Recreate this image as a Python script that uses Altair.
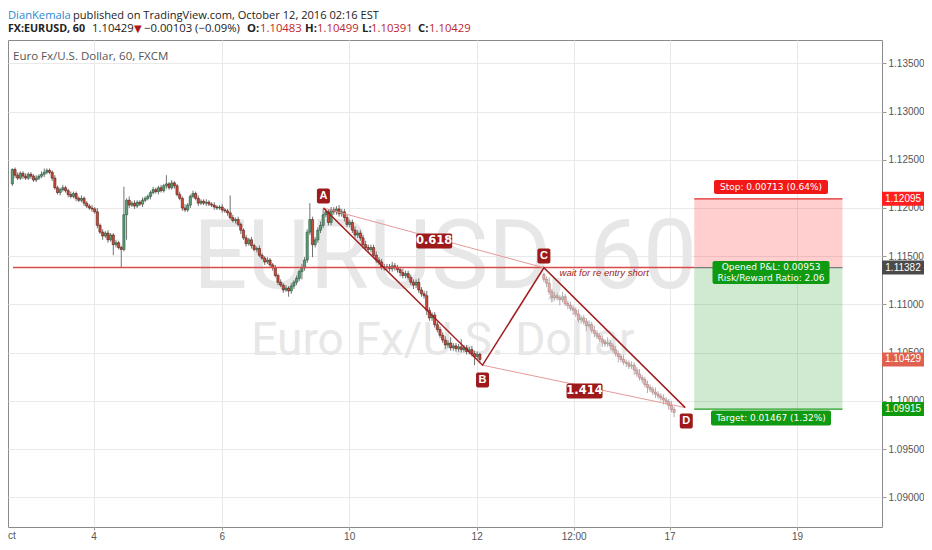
import altair as alt
import pandas as pd

# ---------------- data ----------------
first_open = 1.1225
closes = [
    1.1240, 1.1234, 1.1231, 1.1236, 1.1233, 1.1231, 1.1235, 1.1233, 1.1229, 1.1231,
    1.1233, 1.1235, 1.1237, 1.1239, 1.1237, 1.1231, 1.1221, 1.1216, 1.1219, 1.1221,
    1.1218, 1.1214, 1.1212, 1.1215, 1.1210, 1.1208, 1.1210, 1.1205, 1.1202, 1.1200,
    1.1199, 1.1196, 1.1182, 1.1175, 1.1171, 1.1174, 1.1167, 1.1172, 1.1162, 1.1164,
    1.1159, 1.1157, 1.1193, 1.1208, 1.1203, 1.1205, 1.1202, 1.1206, 1.1204, 1.1208,
    1.1210, 1.1212, 1.1216, 1.1219, 1.1217, 1.1221, 1.1218, 1.1223, 1.1225, 1.1221,
    1.1226, 1.1223, 1.1214, 1.1210, 1.1200, 1.1198, 1.1203, 1.1212, 1.1215, 1.1210,
    1.1205, 1.1207, 1.1205, 1.1206, 1.1204, 1.1203, 1.1201, 1.1200, 1.1201, 1.1198,
    1.1197, 1.1195, 1.1190, 1.1187, 1.1188, 1.1183, 1.1177, 1.1169, 1.1163, 1.1167,
    1.1161, 1.1157, 1.1158, 1.1151, 1.1148, 1.1144, 1.1146, 1.1141, 1.1138, 1.1130,
    1.1123, 1.1120, 1.1115, 1.1117, 1.1114, 1.1119, 1.1123, 1.1127, 1.1134, 1.1138,
    1.1146, 1.1175, 1.1188, 1.1162, 1.1167, 1.1177, 1.1182, 1.1193, 1.1196, 1.1185,
    1.1198, 1.1196, 1.1199, 1.1194, 1.1196, 1.1190, 1.1183, 1.1185, 1.1177, 1.1172,
    1.1174, 1.1169, 1.1162, 1.1159, 1.1157, 1.1159, 1.1151, 1.1146, 1.1144, 1.1139,
    1.1138, 1.1139, 1.1137, 1.1140, 1.1138, 1.1136, 1.1133, 1.1130, 1.1132, 1.1128,
    1.1123, 1.1120, 1.1123, 1.1115, 1.1111, 1.1109, 1.1094, 1.1086, 1.1089, 1.1079,
    1.1074, 1.1068, 1.1063, 1.1058, 1.1060, 1.1055, 1.1057, 1.1054, 1.1056, 1.1053,
    1.1055, 1.1051, 1.1053, 1.1049, 1.1046, 1.10483, 1.10429,
]
up_wick_pips = [
    1, 2, 3, 2, 2, 3, 2, 2, 2, 3,
    2, 3, 4, 2, 2, 2, 3, 2, 2, 3,
    2, 2, 3, 2, 2, 2, 3, 2, 2, 2,
    3, 2, 4, 2, 3, 2, 3, 2, 2, 3,
    2, 2, 29, 2, 4, 2, 3, 2, 2, 3,
    2, 2, 2, 3, 2, 2, 3, 2, 9, 2,
    3, 2, 2, 3, 2, 4, 2, 2, 3, 2,
    3, 2, 2, 3, 2, 2, 3, 2, 2, 3,
    2, 2, 18, 3, 2, 3, 2, 2, 3, 2,
    3, 2, 2, 3, 2, 2, 3, 2, 2, 3,
    2, 3, 2, 3, 2, 3, 2, 3, 2, 4,
    3, 3, 17, 3, 3, 3, 4, 6, 3, 3,
    3, 3, 3, 4, 3, 3, 4, 3, 3, 4,
    3, 3, 3, 4, 3, 3, 3, 4, 3, 3,
    3, 3, 3, 4, 3, 3, 3, 4, 3, 3,
    3, 3, 3, 4, 3, 3, 5, 3, 3, 3,
    3, 3, 3, 4, 3, 6, 3, 3, 3, 8,
    3, 3, 3, 4, 3, 3, 1.6,
]
dn_wick_pips = [
    2, 3, 2, 2, 3, 2, 2, 3, 2, 2,
    2, 2, 3, 2, 2, 3, 2, 2, 3, 2,
    2, 3, 2, 2, 3, 2, 2, 3, 2, 2,
    3, 2, 3, 2, 4, 2, 3, 2, 11, 3,
    2, 19, 2, 26, 3, 2, 3, 2, 2, 3,
    2, 2, 3, 2, 2, 3, 2, 2, 3, 2,
    2, 3, 2, 2, 3, 2, 2, 3, 2, 2,
    3, 2, 2, 3, 2, 2, 3, 2, 2, 3,
    2, 3, 2, 2, 3, 2, 4, 2, 3, 2,
    3, 2, 3, 2, 2, 3, 2, 2, 3, 2,
    3, 2, 3, 2, 6, 3, 3, 3, 3, 8,
    3, 3, 3, 13, 3, 3, 3, 3, 3, 3,
    3, 3, 3, 3, 3, 4, 3, 3, 3, 3,
    3, 3, 4, 3, 3, 3, 3, 3, 3, 3,
    3, 3, 3, 3, 3, 3, 4, 3, 3, 3,
    3, 4, 3, 3, 3, 3, 5, 3, 3, 3,
    3, 3, 3, 4, 3, 3, 3, 3, 3, 3,
    3, 3, 3, 3, 9, 3, 3.8,
]

# projected ("ghost") bars between C and D
ghost_first_bar = 200.6
ghost_first_open = 1.1131
ghost_closes = [
    1.1126, 1.1122, 1.1113, 1.1107, 1.1109, 1.1107, 1.1105, 1.1108, 1.1101, 1.1099,
    1.1096, 1.1094, 1.1090, 1.1084, 1.1086, 1.1082, 1.1078, 1.1079, 1.1073, 1.1070,
    1.1067, 1.1064, 1.1061, 1.1059, 1.1060, 1.1057, 1.1053, 1.1049, 1.1046, 1.1043,
    1.1040, 1.1039, 1.1036, 1.1037, 1.1032, 1.1028, 1.1024, 1.1022, 1.1017, 1.1014,
    1.1012, 1.1009, 1.1007, 1.1005, 1.1003, 1.1001, 1.0999, 1.0995, 1.0991, 1.0988,
]
ghost_up_pips = [2, 3, 6, 3, 4, 3, 3, 5, 3, 3, 4, 3, 3, 5, 3, 3, 4, 3, 3, 5,
                 3, 3, 4, 3, 6, 3, 3, 4, 3, 3, 5, 3, 3, 4, 3, 3, 5, 3, 3, 4,
                 3, 3, 5, 3, 3, 4, 3, 3, 5, 3]
ghost_dn_pips = [3, 4, 3, 5, 3, 3, 6, 3, 3, 4, 3, 5, 3, 3, 4, 3, 6, 3, 3, 4,
                 3, 3, 5, 3, 3, 4, 3, 3, 6, 3, 3, 4, 3, 3, 5, 3, 3, 4, 3, 6,
                 3, 3, 4, 3, 3, 5, 3, 4, 3, 5]

x_tick_pos = [31.1, 79.3, 127.3, 175.3, 211.8, 247.9, 295.9]
x_tick_lab = ["4", "6", "10", "12", "12:00", "17", "19"]
y_ticks = [1.09, 1.095, 1.10, 1.105, 1.11, 1.115, 1.12, 1.125, 1.13, 1.135]

pattern_names = ["A", "B", "C", "D"]
pattern_bar = [117.6, 177.5, 200.6, 253.8]
pattern_price = [1.1200, 1.1037, 1.1138, 1.0993]
pattern_label_bar = [117.6, 177.5, 200.6, 254.2]
pattern_label_price = [1.12124, 1.10216, 1.11502, 1.09791]

ratio_text = ["0.618", "1.414"]
ratio_bar = [159.3, 215.9]
ratio_price = [1.11657, 1.10102]

entry_price = 1.11382
stop_price = 1.12095
target_price = 1.09915
pos_bar_start = 257.2
pos_bar_end = 313.0
pos_label_bar = 286.1
stop_label_price = 1.12217
pnl_label_price = 1.11331
target_label_price = 1.09822
note_bar = 206.5
note_price = 1.11326

tag_prices = [1.12095, 1.11382, 1.10429, 1.09915]
tag_colors = ["#ff1f1f", "#4a4a4a", "#df604e", "#0d9a0d"]

X_DOMAIN = [0.744, 326.0]
Y_DOMAIN = [1.08692, 1.13742]

# ---------------- tables ----------------
def ohlc(first_bar, o0, cl, up, dn):
    rows, prev = [], o0
    for i, c in enumerate(cl):
        o = prev
        rows.append(dict(bar=first_bar + i, open=o, close=c,
                         high=max(o, c) + up[i] * 1e-4,
                         low=min(o, c) - dn[i] * 1e-4,
                         dir="up" if c >= o else "down"))
        prev = c
    return pd.DataFrame(rows)

candles = ohlc(0.5, first_open, closes, up_wick_pips, dn_wick_pips)
ghosts = ohlc(ghost_first_bar, ghost_first_open, ghost_closes, ghost_up_pips, ghost_dn_pips)

xs = alt.Scale(domain=X_DOMAIN, nice=False, zero=False)
ys = alt.Scale(domain=Y_DOMAIN, nice=False, zero=False)
label_expr = "".join(f"abs(datum.value - {p}) < 0.5 ? '{l}' : " for p, l in zip(x_tick_pos, x_tick_lab)) + "''"
xaxis = alt.Axis(values=x_tick_pos, labelExpr=label_expr, title=None, grid=True,
                 gridColor="#e9e9e9", domain=False, tickColor="#999", tickSize=3,
                 labelPadding=1, labelFontSize=10, labelColor="#555",
                 labelFont="Liberation Sans", labelOverlap=False, labelFlush=False)
yaxis = alt.Axis(orient="right", values=y_ticks, format=".5f", title=None, grid=True,
                 gridColor="#e9e9e9", domain=False, tickColor="#999", tickSize=4,
                 labelPadding=2, labelFontSize=10, labelColor="#555",
                 labelFont="Liberation Sans", labelOverlap=False, labelFlush=False)


def X(f):
    return alt.X(f, type="quantitative", scale=xs, axis=xaxis)


def Y(f):
    return alt.Y(f, type="quantitative", scale=ys, axis=yaxis)


def ptxt(s, x, y, **kw):
    base = dict(align="left", baseline="middle")
    base.update(kw)
    return alt.Chart(pd.DataFrame({"t": [s]})).mark_text(**base).encode(
        x=alt.value(x), y=alt.value(y), text="t:N")


layers = []

# watermark
layers.append(ptxt("EURUSD, 60", 437, 248, align="center", baseline="alphabetic",
                   font="Roboto", fontSize=96, color="#e7e7e7"))
layers.append(ptxt("Euro Fx/U.S. Dollar", 435, 315, align="center", baseline="alphabetic",
                   font="Roboto", fontSize=46, color="#e7e7e7"))

# candles
layers.append(alt.Chart(candles).mark_rule(color="#737375", strokeWidth=1).encode(
    x=X("bar"), y=Y("low"), y2="high"))
layers.append(alt.Chart(candles).mark_bar(size=2.2, strokeWidth=0.6).encode(
    x=X("bar"), y=Y("open"), y2="close",
    color=alt.condition("datum.dir == 'up'", alt.value("#5f9d78"), alt.value("#cc4c3c")),
    stroke=alt.condition("datum.dir == 'up'", alt.value("#225437"), alt.value("#5b1a13"))))

# ghost bars
layers.append(alt.Chart(ghosts).mark_rule(color="#b0b0b0", strokeWidth=1).encode(
    x=X("bar"), y=Y("low"), y2="high"))
layers.append(alt.Chart(ghosts).mark_bar(size=2.2, strokeWidth=0.6).encode(
    x=X("bar"), y=Y("open"), y2="close",
    color=alt.condition("datum.dir == 'up'", alt.value("#b0d4bd"), alt.value("#e4b2b2")),
    stroke=alt.condition("datum.dir == 'up'", alt.value("#7fa98c"), alt.value("#b07878"))))

# entry level line
layers.append(alt.Chart(pd.DataFrame({"x1": [X_DOMAIN[0]], "x2": [pos_bar_start], "y": [entry_price]}))
              .mark_rule(color="#d94a4a", strokeWidth=1.5).encode(x=X("x1"), x2="x2", y=Y("y")))

# position tool
zones = pd.DataFrame({"x1": [pos_bar_start, pos_bar_start], "x2": [pos_bar_end, pos_bar_end],
                      "y1": [entry_price, target_price], "y2": [stop_price, entry_price],
                      "z": ["stop", "target"]})
layers.append(alt.Chart(zones).mark_rect(opacity=0.2).encode(
    x=X("x1"), x2="x2", y=Y("y1"), y2="y2",
    color=alt.condition("datum.z == 'stop'", alt.value("#ff0f0f"), alt.value("#0f961a"))))
plines = pd.DataFrame({"x1": [pos_bar_start] * 3, "x2": [pos_bar_end] * 3,
                       "y": [stop_price, entry_price, target_price], "k": ["s", "e", "t"]})
layers.append(alt.Chart(plines).mark_rule(strokeWidth=1.2).encode(
    x=X("x1"), x2="x2", y=Y("y"),
    color=alt.Color("k:N", scale=alt.Scale(domain=["s", "e", "t"], range=["#e02a2a", "#7a7a7a", "#1e9e1e"]), legend=None)))

# pattern: thin ratio lines
thin = pd.DataFrame({"x1": [pattern_bar[0], pattern_bar[1]], "y1": [pattern_price[0], pattern_price[1]],
                     "x2": [pattern_bar[2], pattern_bar[3]], "y2": [pattern_price[2], pattern_price[3]]})
layers.append(alt.Chart(thin).mark_rule(color="#e49a9a", strokeWidth=1).encode(
    x=X("x1"), y=Y("y1"), x2="x2", y2="y2"))
# pattern: main legs
legs = pd.DataFrame({"bar": pattern_bar, "price": pattern_price, "o": list(range(4))})
layers.append(alt.Chart(legs).mark_line(color="#a21d1d", strokeWidth=1.5).encode(
    x=X("bar"), y=Y("price"), order="o:Q"))

# pattern badges
badges = pd.DataFrame({"bar": pattern_label_bar, "price": pattern_label_price, "t": pattern_names})
layers.append(alt.Chart(badges).mark_tick(orient="horizontal", size=13, thickness=15, opacity=1,
                                           color="#9e1a1a", cornerRadius=2).encode(x=X("bar"), y=Y("price")))
layers.append(alt.Chart(badges).mark_text(color="white", fontWeight="bold", fontSize=11,
                                           font="Liberation Sans").encode(x=X("bar"), y=Y("price"), text="t:N"))
ratios = pd.DataFrame({"bar": ratio_bar, "price": ratio_price, "t": ratio_text})
layers.append(alt.Chart(ratios).mark_tick(orient="horizontal", size=36, thickness=15, opacity=1,
                                           color="#9e1a1a", cornerRadius=2).encode(x=X("bar"), y=Y("price")))
layers.append(alt.Chart(ratios).mark_text(color="white", fontWeight="bold", fontSize=11.5,
                                           font="DejaVu Sans").encode(x=X("bar"), y=Y("price"), text="t:N"))

# note
note = pd.DataFrame({"bar": [note_bar], "price": [note_price], "t": ["wait for re entry short"]})
layers.append(alt.Chart(note).mark_text(color="#a01c1c", fontStyle="italic", fontSize=9.5, align="left",
                                         font="Liberation Sans").encode(x=X("bar"), y=Y("price"), text="t:N"))

# position labels
plab = pd.DataFrame({"bar": [pos_label_bar] * 3,
                     "price": [stop_label_price, pnl_label_price, target_label_price],
                     "k": ["s", "p", "t"]})
for k, w, h, col in [("s", 114, 14, "#f21818"), ("p", 117, 23, "#0f9a12"), ("t", 120, 15, "#0f9a12")]:
    layers.append(alt.Chart(plab[plab.k == k]).mark_tick(orient="horizontal", size=w, thickness=h, opacity=1,
                                                          color=col, cornerRadius=2).encode(x=X("bar"), y=Y("price")))
ptexts = pd.DataFrame({"bar": [pos_label_bar] * 4,
                       "price": [stop_label_price, pnl_label_price, pnl_label_price, target_label_price],
                       "t": ["Stop: 0.00713 (0.64%)", "Opened P&L: 0.00953", "Risk/Reward Ratio: 2.06",
                             "Target: 0.01467 (1.32%)"]})
for i, dy in enumerate([0, -5.5, 5.5, 0]):
    layers.append(alt.Chart(ptexts.iloc[[i]]).mark_text(color="white", fontSize=9, font="DejaVu Sans",
                                                         dy=dy).encode(
        x=X("bar"), y=Y("price"), text="t:N"))

# price tags on axis
tags = pd.DataFrame({"price": tag_prices, "c": tag_colors})
layers.append(alt.Chart(tags).mark_tick(orient="horizontal", size=44, thickness=14, opacity=1).encode(
    x=alt.value(896), y=Y("price"), color=alt.Color("c:N", scale=None)))
layers.append(alt.Chart(tags).mark_text(color="white", fontSize=10, font="Liberation Sans").encode(
    x=alt.value(895), y=Y("price"), text=alt.Text("price:Q", format=".5f")))

# header & legend
HF = "Open Sans"
L1, L2 = -24, -11
layers.append(ptxt("DianKemala", 0, L1, font=HF, fontSize=11.2, color="#2b8ad0"))
layers.append(ptxt("published on TradingView.com, October 12, 2016 02:16 EST", 65, L1, font=HF, fontSize=11.1, color="#222"))
layers.append(ptxt("FX:EURUSD, 60", 0, L2, font=HF, fontSize=10.7, fontWeight="bold", color="#222"))
layers.append(ptxt("1.10429", 84, L2, font=HF, fontSize=11.3, color="#222"))
layers.append(ptxt("▼", 126, L2, font="DejaVu Sans", fontSize=10, color="#b01515"))
layers.append(ptxt("\u22120.00103 (\u22120.09%)", 136, L2, font=HF, fontSize=11.3, color="#222"))
for lab, val, xl, xv in [("O:", "1.10483", 239, 252), ("H:", "1.10499", 297, 309),
                         ("L:", "1.10391", 354, 363), ("C:", "1.10429", 410, 421)]:
    layers.append(ptxt(lab, xl, L2, font=HF, fontSize=11.3, fontWeight="bold", color="#222"))
    layers.append(ptxt(val, xv, L2, font=HF, fontSize=11.3, color="#c0262d"))
layers.append(ptxt("Euro Fx/U.S. Dollar, 60, FXCM", 5, 17, font=HF, fontSize=11.5, color="#555"))
layers.append(ptxt("ct", 0, 496, font="Liberation Sans", fontSize=10, color="#555"))

chart = alt.layer(*layers).properties(
    width=874, height=487,
    padding={"left": 0, "top": 32, "right": 42, "bottom": 14},
    autosize=alt.AutoSizeParams(type="none"),
    background="white",
).configure_view(stroke="#8a8a8a", strokeWidth=1)

chart.save("out.html", embed_options={"renderer": "svg", "actions": False})
